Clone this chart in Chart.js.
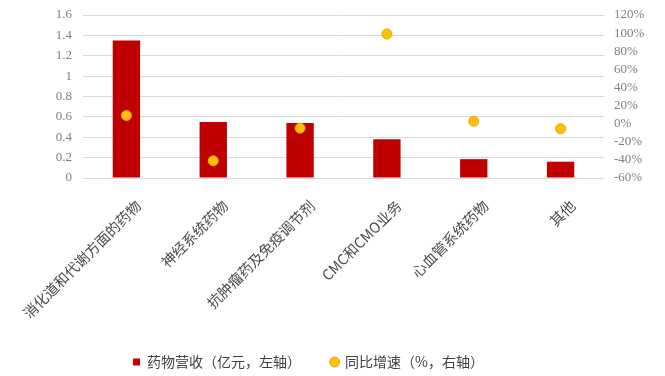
<!DOCTYPE html>
<html>
<head>
<meta charset="utf-8">
<script src="https://cdn.jsdelivr.net/npm/chart.js@4/dist/chart.umd.min.js"></script>
<style>
  html, body { margin: 0; padding: 0; background: #fff; }
  #wrap { width: 665px; height: 376px; }
</style>
</head>
<body>
<div id="wrap"><canvas id="c" width="665" height="376"></canvas></div>
<script>
const categories = ['消化道和代谢方面的药物', '神经系统药物', '抗肿瘤药及免疫调节剂', 'CMC和CMO业务', '心血管系统药物', '其他']
const revenue = [1.35, 0.55, 0.54, 0.38, 0.185, 0.16]
const growth = [9, -41, -5, 99, 2.6, -5.6]

const tickFont = { family: '"Liberation Serif", serif', size: 13 }
const cjkFont = { family: '"Noto Sans CJK SC", sans-serif', size: 14 }

// nudge the legend row: a little left of centre and lower down
const legendShift = {
  id: 'legendShift',
  afterLayout(chart) {
    const lg = chart.legend
    lg.left -= 24
    lg.right -= 24
    lg.top += 7
    lg.bottom += 7
  }
}

function noVertPad(s) {
  s.paddingTop = 0
  s.paddingBottom = 0
}

new Chart(document.getElementById('c'), {
  data: {
    labels: categories,
    datasets: [
      {
        type: 'line',
        label: '同比增速（%，右轴）',
        data: growth,
        yAxisID: 'y1',
        showLine: false,
        pointStyle: 'circle',
        pointRadius: 5,
        pointBackgroundColor: '#FFC000',
        pointBorderColor: '#E8A317',
        pointBorderWidth: 1,
        backgroundColor: '#FFC000',
        borderColor: '#E8A317',
        order: 0
      },
      {
        type: 'bar',
        label: '药物营收（亿元，左轴）',
        data: revenue,
        yAxisID: 'y',
        backgroundColor: '#C00000',
        borderWidth: 0,
        categoryPercentage: 1,
        barPercentage: 0.315,
        pointStyle: 'rect',
        order: 1
      }
    ]
  },
  options: {
    animation: false,
    responsive: false,
    layout: { padding: { top: 15, left: 0, right: 0, bottom: 4 } },
    plugins: {
      tooltip: { enabled: false },
      legend: {
        position: 'bottom',
        reverse: true,
        labels: {
          usePointStyle: true,
          boxWidth: 7,
          boxHeight: 7,
          padding: 30,
          color: '#404040',
          font: cjkFont
        }
      }
    },
    scales: {
      x: {
        grid: { display: false, drawTicks: false },
        border: { display: false },
        ticks: {
          minRotation: 45,
          maxRotation: 45,
          autoSkip: false,
          padding: 19,
          labelOffset: 12,
          color: '#4a4a4a',
          font: { family: '"Noto Sans CJK SC", sans-serif', size: 14.5 }
        },
        afterFit: function (s) {
          s.height = 140
          s.paddingLeft = 0
          s.paddingRight = 0
        }
      },
      y: {
        position: 'left',
        min: 0,
        max: 1.6,
        grid: { color: '#D9D9D9', drawTicks: false },
        border: { display: false },
        ticks: {
          stepSize: 0.2,
          padding: 11,
          color: '#7F7F7F',
          font: tickFont,
          callback: function (v) { return String(Number(v.toFixed(1))) }
        },
        afterFit: function (s) {
          s.width = 83
          noVertPad(s)
        }
      },
      y1: {
        position: 'right',
        min: -60,
        max: 120,
        grid: { display: false, drawTicks: false },
        border: { display: false },
        ticks: {
          stepSize: 20,
          autoSkip: false,
          padding: 10,
          color: '#7F7F7F',
          font: tickFont,
          callback: function (v) { return v + '%' }
        },
        afterFit: function (s) {
          s.width = 61
          noVertPad(s)
        }
      }
    }
  },
  plugins: [legendShift]
})
</script>
</body>
</html>
